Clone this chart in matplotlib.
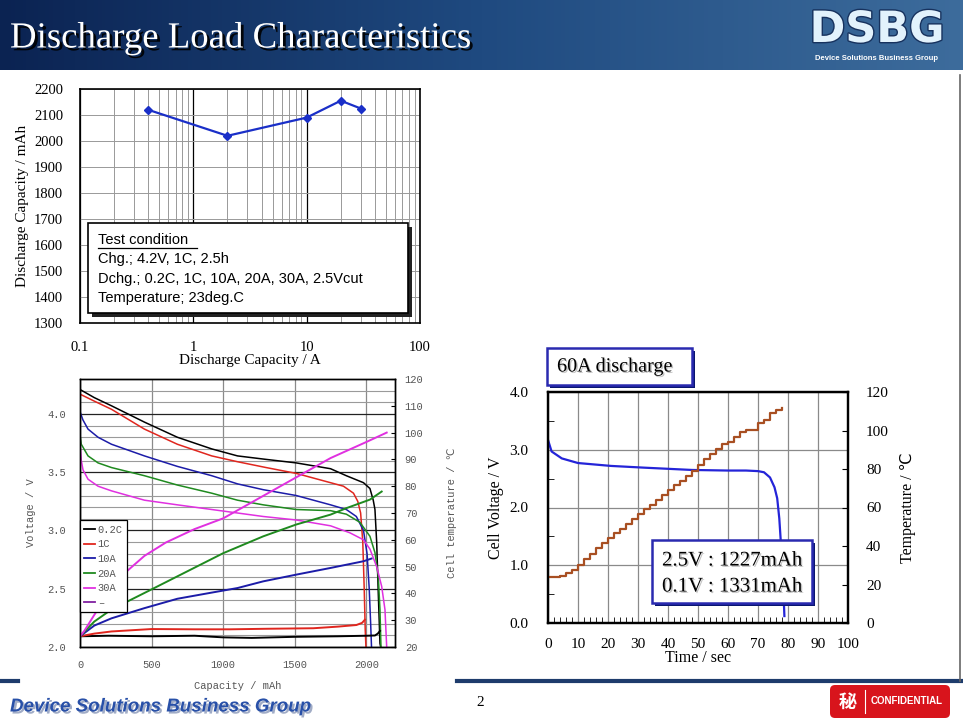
import numpy as np
import matplotlib
matplotlib.use('Agg')
import matplotlib.pyplot as plt
import matplotlib.patheffects as pe
from matplotlib.patches import Rectangle, FancyBboxPatch
from matplotlib.lines import Line2D
from matplotlib.colors import LinearSegmentedColormap
from matplotlib.ticker import MultipleLocator, NullFormatter, FormatStrFormatter

plt.rcParams['font.family'] = ['Liberation Serif', 'DejaVu Sans']

# ---- top chart: capacity vs discharge current
cur_a = [0.4, 2, 10, 20, 30]
cap_mah = [2120, 2020, 2090, 2155, 2125]
test_lines = ['Chg.; 4.2V, 1C, 2.5h',
              'Dchg.; 0.2C, 1C, 10A, 20A, 30A, 2.5Vcut',
              'Temperature; 23deg.C']

# ---- bottom left: voltage / temperature vs capacity
cap_02c = [0, 100, 220, 450, 680, 920, 1100, 1300, 1510, 1750, 1860, 1980, 2025, 2048, 2060, 2072, 2083, 2095, 2100]
v_02c = [4.21, 4.14, 4.07, 3.93, 3.80, 3.70, 3.64, 3.61, 3.58, 3.53, 3.47, 3.41, 3.36, 3.26, 3.18, 2.90, 2.47, 2.03, 2.0]
tcap_02c = [0, 200, 500, 800, 1000, 1200, 1500, 1800, 2000, 2060, 2080, 2095]
t_02c = [24, 24.2, 24, 24.2, 23.6, 23.4, 23.8, 24, 24.2, 24.3, 25, 26]

cap_1c = [0, 100, 220, 450, 680, 920, 1100, 1300, 1510, 1750, 1840, 1910, 1940, 1960, 1975, 1985, 1992, 1997]
v_1c = [4.17, 4.11, 4.04, 3.87, 3.74, 3.64, 3.59, 3.54, 3.49, 3.41, 3.38, 3.32, 3.25, 3.15, 2.9, 2.5, 2.15, 2.0]
tcap_1c = [0, 100, 220, 500, 800, 1050, 1300, 1630, 1800, 1930, 1970, 1990]
t_1c = [24, 25, 25.8, 26.7, 26.6, 26.6, 26.8, 27, 27.6, 28.2, 29, 30.2]

cap_10a = [0, 20, 56, 126, 220, 450, 680, 920, 1100, 1280, 1510, 1750, 1860, 1930, 1980, 2005, 2020, 2030, 2036]
v_10a = [4.02, 3.95, 3.87, 3.80, 3.74, 3.64, 3.55, 3.47, 3.40, 3.35, 3.30, 3.22, 3.18, 3.12, 3.0, 2.8, 2.5, 2.2, 2.0]
tcap_10a = [0, 100, 220, 450, 680, 920, 1100, 1280, 1510, 1750, 1980, 2036]
t_10a = [24, 28, 30.7, 34.5, 38, 40.3, 42, 44.5, 47, 49.5, 52, 53]

cap_20a = [0, 9, 56, 126, 220, 450, 680, 920, 1100, 1280, 1510, 1750, 1860, 1955, 2025, 2060, 2083, 2095, 2102]
v_20a = [3.82, 3.74, 3.64, 3.58, 3.54, 3.47, 3.39, 3.32, 3.26, 3.22, 3.18, 3.17, 3.14, 3.07, 2.95, 2.81, 2.61, 2.32, 2.0]
tcap_20a = [0, 100, 220, 500, 1000, 1280, 1510, 1750, 1860, 2025, 2107]
t_20a = [24, 29.5, 34, 41.5, 55, 61.3, 65.7, 69.4, 71.8, 75, 78]

cap_30a = [0, 0, 3, 9, 21, 56, 126, 220, 450, 680, 920, 1100, 1280, 1510, 1750, 1885, 1980, 2025, 2072, 2107, 2130, 2142]
v_30a = [4.18, 3.9, 3.7, 3.6, 3.52, 3.44, 3.38, 3.34, 3.26, 3.22, 3.18, 3.15, 3.12, 3.09, 3.04, 2.98, 2.92, 2.84, 2.69, 2.52, 2.32, 2.0]
tcap_30a = [0, 30, 100, 200, 300, 450, 600, 800, 1000, 1250, 1500, 1750, 2000, 2142]
t_30a = [24, 26, 32, 40, 47, 54, 59, 64, 68, 75.5, 83, 90.5, 96.5, 100]

rate_labels = ['0.2C', '1C', '10A', '20A', '30A', '–']
rate_colors = ['black', '#e0261e', '#1c1ca8', '#1f8a1f', '#e030e0', '#8020a0']

# ---- bottom right: 60A discharge
t_60a_v = [0, 1.2, 4.6, 10, 21, 32, 48, 60, 66, 70, 72, 74, 75.5, 76.4, 77.1, 77.6, 78.0, 78.4, 78.8]
v_60a = [3.17, 2.97, 2.85, 2.77, 2.72, 2.69, 2.65, 2.64, 2.64, 2.63, 2.61, 2.52, 2.35, 2.16, 1.81, 1.41, 1.0, 0.66, 0.12]
t_60a_t = [0, 2, 4, 6, 8, 10, 12, 14, 16, 18, 20, 22, 24, 26, 28, 30, 32, 34, 36, 38,
           40, 42, 44, 46, 48, 50, 52, 54, 56, 58, 60, 62, 64, 66, 68, 70, 72, 74, 76, 78]
temp_60a = [24, 24, 24.5, 26, 27.5, 30, 33, 36, 39, 41.5, 44, 46.5, 49, 51.5, 54, 56.5, 59, 61.5, 64, 66.5,
            69, 71.5, 74, 76.5, 79, 82, 85, 88, 90.5, 93, 94, 96.5, 99, 100.3, 100.3, 104, 105.5, 109, 110.5, 111.5]
note_lines = ['2.5V : 1227mAh', '0.1V : 1331mAh']

W, H = 963, 720


def box(l, t, r, b):
    return [l / W, 1 - b / H, (r - l) / W, (b - t) / H]


def fx(x):
    return x / W


def fy(y):
    return 1 - y / H


fig = plt.figure(figsize=(W / 100, H / 100), dpi=100)
fig.patch.set_facecolor('white')

# header band
hdr = fig.add_axes(box(0, 0, 963, 70))
cmap = LinearSegmentedColormap.from_list('hdr', ['#0b2352', '#1f4a80', '#3d6c9c'])
hdr.imshow(np.linspace(0, 1, 256).reshape(1, -1), aspect='auto', cmap=cmap, extent=[0, 1, 0, 1])
hdr.set_axis_off()
fig.text(fx(10), fy(38), 'Discharge Load Characteristics', size=26.5, color='white', va='center',
         path_effects=[pe.SimplePatchShadow(offset=(2, -2), shadow_rgbFace='black', alpha=0.9), pe.Normal()])
fig.text(fx(877), fy(30), 'DSBG', size=31, weight='bold', color='#e2f2fc', ha='center', va='center',
         family='DejaVu Sans', path_effects=[pe.withStroke(linewidth=2, foreground='#17325e')])
fig.text(fx(876), fy(59), 'Device Solutions Business Group', size=5.5, weight='bold', color='white',
         ha='center', va='center', family='Liberation Sans')

# ---- top chart
ax1 = fig.add_axes(box(80, 89, 420, 323))
ax1.set_xscale('log')
ax1.plot(cur_a, cap_mah, color='#1a2fc8', marker='D', ms=4.5, lw=1.6, zorder=5)
ax1.set_xlim(0.1, 100)
ax1.set_ylim(1300, 2200)
ax1.set_yticks(np.arange(1300, 2201, 100))
ax1.set_xticks([0.1, 1, 10, 100])
ax1.set_xticklabels(['0.1', '1', '10', '100'])
ax1.xaxis.set_minor_formatter(NullFormatter())
ax1.grid(which='minor', axis='x', color='#999999', lw=0.7)
ax1.grid(which='major', axis='x', color='black', lw=0.9)
ax1.grid(which='major', axis='y', color='#999999', lw=0.7)
ax1.tick_params(which='both', length=0, labelsize=10.5)
ax1.tick_params(axis='x', pad=13)
ax1.tick_params(axis='y', pad=12)
ax1.set_xlabel('Discharge Capacity / A', fontsize=11, labelpad=0)
ax1.set_ylabel('Discharge Capacity / mAh', fontsize=11, labelpad=4)
for s in ax1.spines.values():
    s.set_linewidth(1.2)

fig.patches.append(Rectangle((fx(92), fy(317)), (408 - 88) / W, (313 - 223) / H,
                             transform=fig.transFigure, facecolor='#222222', edgecolor='none', zorder=10))
fig.patches.append(Rectangle((fx(88), fy(313)), (408 - 88) / W, (313 - 223) / H,
                             transform=fig.transFigure, facecolor='white', edgecolor='black', lw=1.2, zorder=11))
fig.text(fx(98), fy(240), 'Test condition', size=10.5, family='Liberation Sans', va='center', zorder=12)
fig.add_artist(Line2D([fx(98), fx(197)], [fy(248), fy(248)], color='black', lw=0.9, zorder=12))
for i, ln in enumerate(test_lines):
    fig.text(fx(98), fy(259 + 19.5 * i), ln, size=10.5, family='Liberation Sans', va='center', zorder=12)

# ---- bottom left chart
gray = '#555555'
ax2 = fig.add_axes(box(80, 379, 395, 647))
ax2.set_xlim(0, 2200)
ax2.set_ylim(2.0, 4.3)
ax2.set_xticks(np.arange(0, 2001, 500))
ax2.set_yticks(np.arange(2.0, 4.01, 0.5))
ax2.yaxis.set_major_formatter(FormatStrFormatter('%.1f'))
ax2.yaxis.set_minor_locator(MultipleLocator(0.1))
ax2.grid(which='minor', axis='y', color='#9a9a9a', lw=0.8)
ax2.grid(which='major', axis='y', color='#222222', lw=0.9)
ax2.grid(which='major', axis='x', color='#8a8a8a', lw=0.9)
ax2.tick_params(which='both', length=0, labelsize=7.5, labelcolor=gray, labelfontfamily='Liberation Mono')
ax2.tick_params(axis='y', pad=10)
ax2.tick_params(axis='x', pad=9)
ax2.set_xlabel('Capacity / mAh', fontsize=7.5, color=gray, family='Liberation Mono', labelpad=8)
ax2.set_ylabel('Voltage / V', fontsize=7.5, color=gray, family='Liberation Mono', labelpad=8)

ax2t = ax2.twinx()
ax2t.set_ylim(20, 120)
ax2t.set_yticks(np.arange(20, 121, 10))
ax2t.tick_params(direction='in', length=3, labelsize=7.5, labelcolor=gray, labelfontfamily='Liberation Mono', pad=7)
ax2t.set_ylabel('Cell temperature / ℃', fontsize=7.5, color=gray, family=['Liberation Mono', 'DejaVu Sans'],
                labelpad=17)

v_sets = [(cap_02c, v_02c), (cap_1c, v_1c), (cap_10a, v_10a), (cap_20a, v_20a), (cap_30a, v_30a)]
t_sets = [(tcap_02c, t_02c), (tcap_1c, t_1c), (tcap_10a, t_10a), (tcap_20a, t_20a), (tcap_30a, t_30a)]
for (cx, cv), c in zip(v_sets, rate_colors):
    ax2.plot(cx, cv, color=c, lw=1.1)
for (cx, ct), c in zip(t_sets, rate_colors):
    ax2t.plot(cx, ct, color=c, lw=1.4)
for s in list(ax2.spines.values()) + list(ax2t.spines.values()):
    s.set_linewidth(1.0)

handles = [Line2D([], [], color=c, lw=1.3) for c in rate_colors]
leg = ax2t.legend(handles, rate_labels, loc='lower left', bbox_to_anchor=(0.0, 0.13), borderaxespad=0,
                  fancybox=False, edgecolor='black', framealpha=1, handlelength=1.0, handletextpad=0.3,
                  labelspacing=0.45, borderpad=0.4, prop={'family': 'Liberation Mono', 'size': 7.5})
leg.get_frame().set_linewidth(0.9)
for t in leg.get_texts():
    t.set_color(gray)

# ---- bottom right chart
ax3 = fig.add_axes(box(548, 392, 848, 623))
ax3.set_xlim(0, 100)
ax3.set_ylim(0, 4.0)
ax3.set_xticks(np.arange(0, 101, 10))
ax3.xaxis.set_minor_locator(MultipleLocator(2))
ax3.set_yticks(np.arange(0, 4.01, 1.0))
ax3.yaxis.set_minor_locator(MultipleLocator(0.5))
ax3.yaxis.set_major_formatter(FormatStrFormatter('%.1f'))
ax3.grid(which='major', color='#8a8a8a', lw=0.9)
ax3.tick_params(which='both', direction='in', labelsize=11)
ax3.tick_params(which='major', length=0)
ax3.tick_params(which='minor', length=4)
ax3.tick_params(axis='x', pad=11)
ax3.tick_params(axis='y', pad=14)
ax3.plot(t_60a_v, v_60a, color='#2424d8', lw=1.6)
ax3.set_xlabel('Time / sec', fontsize=11.5, labelpad=-1)
ax3.set_ylabel('Cell Voltage / V', fontsize=11.5, labelpad=4)
ax3t = ax3.twinx()
ax3t.set_ylim(0, 120)
ax3t.set_yticks(np.arange(0, 121, 20))
ax3t.tick_params(direction='in', length=4, labelsize=11, pad=13)
ax3t.plot(t_60a_t, temp_60a, color='#a84f22', lw=1.6, drawstyle='steps-post')
ax3t.set_ylabel('Temperature / ℃', fontsize=11.5, labelpad=8)
for s in list(ax3.spines.values()) + list(ax3t.spines.values()):
    s.set_linewidth(1.6)

# "60A discharge" label box
fig.patches.append(Rectangle((fx(550), fy(388)), (692 - 547) / W, (385 - 348) / H,
                             transform=fig.transFigure, facecolor='#0a1670', edgecolor='none', zorder=10))
fig.patches.append(Rectangle((fx(547), fy(385)), (692 - 547) / W, (385 - 348) / H,
                             transform=fig.transFigure, facecolor='white', edgecolor='#2a2ab0', lw=1.8, zorder=11))
fig.text(fx(557), fy(367), '60A discharge', size=14.5, va='center', zorder=12,
         path_effects=[pe.SimplePatchShadow(offset=(1, -1), shadow_rgbFace='#999999', alpha=0.6), pe.Normal()])

# capacity note box
fig.patches.append(Rectangle((fx(655), fy(606)), (812 - 652) / W, (603 - 540) / H,
                             transform=fig.transFigure, facecolor='#0a1670', edgecolor='none', zorder=10))
fig.patches.append(Rectangle((fx(652), fy(603)), (812 - 652) / W, (603 - 540) / H,
                             transform=fig.transFigure, facecolor='white', edgecolor='#2a2ab0', lw=1.8, zorder=11))
for i, ln in enumerate(note_lines):
    fig.text(fx(662), fy(561 + 26 * i), ln, size=15, va='center', zorder=12,
             path_effects=[pe.SimplePatchShadow(offset=(1, -1), shadow_rgbFace='#999999', alpha=0.6), pe.Normal()])

# ---- footer
fig.add_artist(Line2D([0, fx(18)], [fy(681), fy(681)], color='#1e3c6c', lw=3))
fig.add_artist(Line2D([fx(457), 1], [fy(681), fy(681)], color='#1e3c6c', lw=3))
fig.add_artist(Line2D([fx(960), fx(960)], [fy(75), fy(681)], color='#666666', lw=1.2))
fig.text(fx(480), fy(703), '2', size=11, ha='center', va='center')
fig.text(fx(10), fy(707), 'Device Solutions Business Group', size=13.5, weight='bold', style='italic',
         color='#2850a8', family='Liberation Sans', va='center',
         path_effects=[pe.SimplePatchShadow(offset=(1.5, -1.5), shadow_rgbFace='#8a98b8', alpha=0.8), pe.Normal()])
fig.patches.append(FancyBboxPatch((8.30, 0.02), 1.20, 0.33, boxstyle='round,pad=0,rounding_size=0.05',
                                  transform=fig.dpi_scale_trans, facecolor='#d8141c', edgecolor='none'))
fig.text(fx(848), fy(702), '秘', size=13, weight='bold', color='white', ha='center', va='center',
         family='Noto Sans CJK JP')
fig.add_artist(Line2D([fx(865), fx(865)], [fy(690), fy(713)], color='white', lw=0.8))
fig.text(fx(907), fy(701), 'CONFIDENTIAL', size=7, weight='bold', color='white', ha='center', va='center',
         family='Liberation Sans')

fig.savefig('out.png', dpi=100)
